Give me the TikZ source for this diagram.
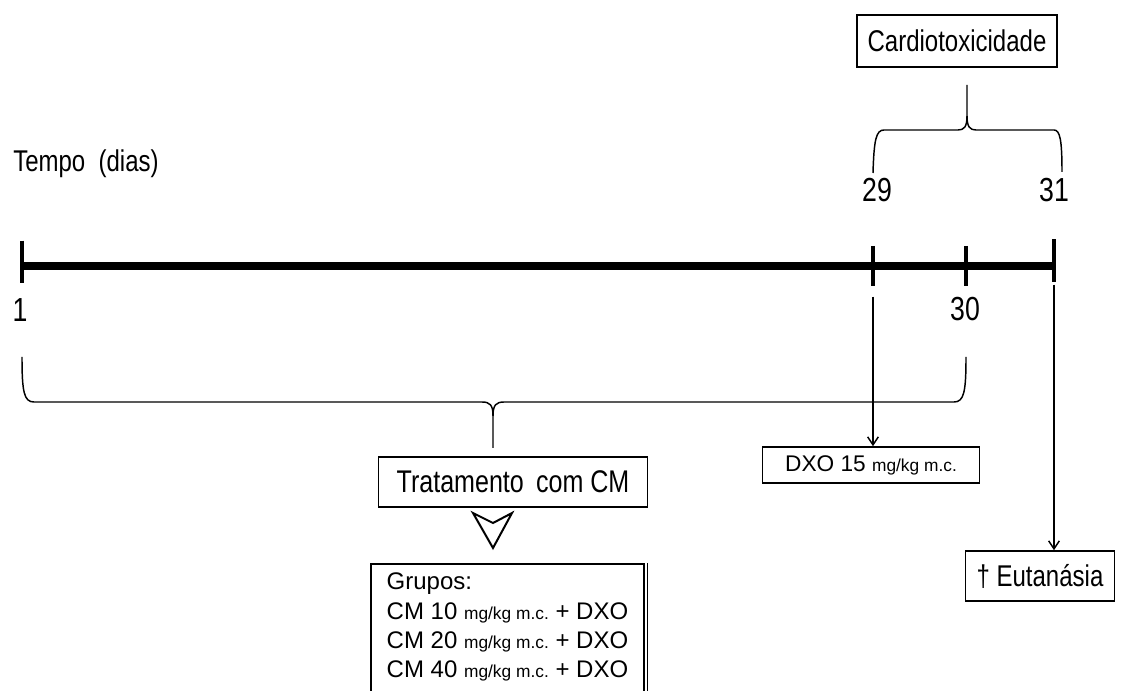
\documentclass[tikz,border=0pt]{standalone}
\usepackage{fontspec}
\setmainfont{Liberation Sans}
\newfontfamily\tallfont{Liberation Sans}[FakeStretch=0.8]
\usetikzlibrary{arrows.meta}
\tikzstyle{block} = [draw, rectangle, line width=1.2pt, inner sep=0pt, font=\fontsize{17}{22}\selectfont]
\tikzstyle{tallblock} = [block, font=\tallfont\fontsize{22.5}{26}\selectfont]
\tikzstyle{daytext} = [inner sep=0pt, font=\tallfont\fontsize{25}{28}\selectfont]
\tikzstyle{daytick} = [line width=2.4pt]
\tikzstyle{brace} = [line width=1.1pt, line join=round]
\newcommand{\dose}{{\fontsize{13}{14}\selectfont mg/kg m.c.}}

\begin{document}
\begin{tikzpicture}[x=0.75pt, y=-0.75pt, >={Straight Barb[length=6pt,width=8pt]}]
    \useasboundingbox (0,0) rectangle (1129,691);
    \clip (0,0) rectangle (1129,691);
 % timeline
    \coordinate (t1) at (22,266);
    \coordinate (t29) at (873,266);
    \coordinate (t30) at (966,266);
    \coordinate (t31) at (1054,266);
    \draw [line width=6pt] (t1) -- (t31);
    \draw [daytick] ([yshift=19pt]t1) -- ([yshift=-13pt]t1);
    \draw [daytick] ([yshift=15pt]t29) -- ([yshift=-15pt]t29);
    \draw [daytick] ([yshift=15pt]t30) -- ([yshift=-15pt]t30);
    \draw [daytick] ([yshift=20pt]t31) -- ([yshift=-12pt]t31);
 % nodes
    \node [anchor=west, inner sep=0pt, font=\tallfont\fontsize{22.5}{26}\selectfont, name=tempo] at (13,164) {Tempo \ (dias)};
    \node [daytext, name=d1] at (20,310) {1};
    \node [daytext, name=d29] at (877,190) {29};
    \node [daytext, name=d30] at (965,309) {30};
    \node [daytext, name=d31] at (1054,190) {31};
    \node [tallblock, minimum width=150pt, minimum height=39pt, name=cardio] at (957,41) {Cardiotoxicidade};
    \node [tallblock, minimum width=202pt, minimum height=37.5pt, font=\tallfont\fontsize{23.5}{26}\selectfont, name=tratamento] at (513,482) {Tratamento \,com CM};
    \node [block, minimum width=163pt, minimum height=27pt, name=dxo] at (871,465) {DXO 15 \dose};
    \node [tallblock, minimum width=112pt, minimum height=37.5pt, name=eutanasia] at (1040,576) {\textdagger\ Eutanásia};
    \node [block, anchor=north west, minimum width=205pt, inner ysep=7pt, align=left, font=\fontsize{18}{22}\selectfont, name=grupos] at (370,563)
        {Grupos:\\CM 10 \dose\ + DXO\\CM 20 \dose\ + DXO\\CM 40 \dose\ + DXO\\ };
    \draw [line width=1.2pt] ([xshift=2pt]grupos.north east) -- ([xshift=2pt]grupos.south east);
    \coordinate (tip) at (493,448);
    \coordinate (top) at (967,85);
 % braces
    \draw [brace] (22,357) .. controls (22,392) and (24,402) .. (34,402) -- (482,402)
        .. controls (490,402) and (493,405) .. (493,416) -- (tip);
    \draw [brace] (493,416) .. controls (493,405) and (496,402) .. (504,402) -- (954,402)
        .. controls (964,402) and (966,392) .. (966,357);
    \draw [brace] (873,173) .. controls (874,140) and (876,130) .. (884,130) -- (958,130)
        .. controls (964,130) and (967,127) .. (967,116) -- (top);
    \draw [brace] (967,116) .. controls (967,127) and (970,130) .. (976,130) -- (1054,130)
        .. controls (1060,130) and (1062,140) .. (1062,172);
    \draw [line width=1.5pt, line join=miter] (473,513) -- (493,548) -- (512,513) -- (493,523) -- cycle;
 % edges
    \draw [->, line width=1.1pt] ([yshift=-23pt]t29) -- (dxo.north -| t29);
    \draw [->, line width=1.1pt] ([yshift=-14pt]t31) -- (eutanasia.north -| t31);
\end{tikzpicture}
\end{document}
